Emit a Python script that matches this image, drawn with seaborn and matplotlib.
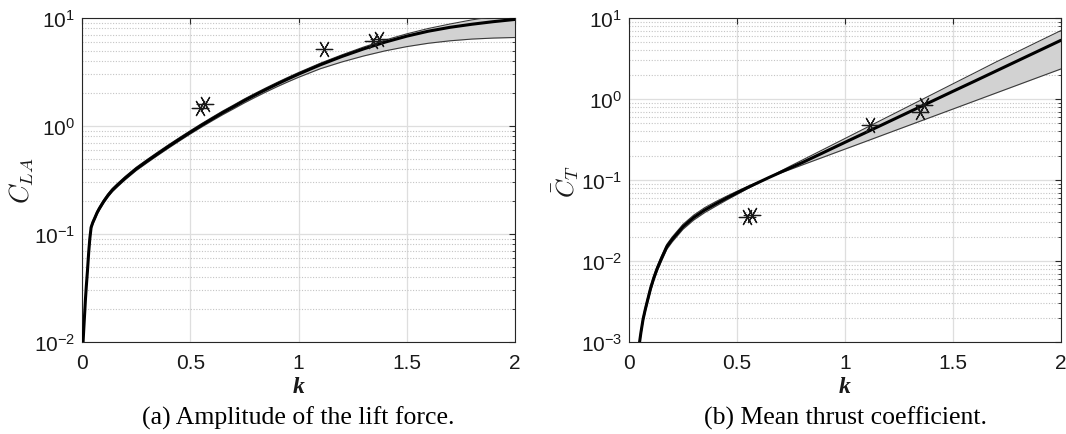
import numpy as np
import pandas as pd
import matplotlib
matplotlib.use("Agg")
import matplotlib.pyplot as plt
import seaborn as sns
from matplotlib.ticker import LogLocator, FixedLocator, FixedFormatter, NullFormatter

# ---------------- data ----------------
# (a) Amplitude of the lift force
k_lift = [0.005, 0.008, 0.012, 0.016, 0.02, 0.025, 0.031, 0.036, 0.042, 0.05,
          0.06, 0.07, 0.08, 0.1, 0.12, 0.14, 0.165, 0.2, 0.25, 0.3,
          0.35, 0.4, 0.45, 0.5, 0.55, 0.6, 0.65, 0.7, 0.75, 0.8,
          0.85, 0.9, 0.95, 1.0, 1.1, 1.2, 1.3, 1.4, 1.5, 1.6,
          1.7, 1.8, 1.9, 2.0]
cla_mean = [0.010, 0.013, 0.018, 0.025, 0.033, 0.045, 0.068, 0.09, 0.115, 0.128,
            0.142, 0.158, 0.172, 0.2, 0.228, 0.255, 0.285, 0.33, 0.40, 0.472,
            0.554, 0.648, 0.754, 0.874, 1.01, 1.16, 1.33, 1.51, 1.72, 1.94,
            2.18, 2.44, 2.72, 3.02, 3.68, 4.40, 5.17, 5.98, 6.79, 7.55,
            8.2, 8.75, 9.25, 9.7]
cla_lower = [0.00965, 0.01255, 0.01737, 0.02413, 0.03185, 0.04343, 0.06562, 0.08685, 0.111, 0.1235,
             0.137, 0.1525, 0.166, 0.193, 0.22, 0.246, 0.275, 0.3185, 0.386, 0.4555,
             0.5346, 0.6253, 0.7276, 0.8434, 0.9716, 1.114, 1.273, 1.442, 1.637, 1.843,
             2.067, 2.306, 2.557, 2.824, 3.386, 3.916, 4.446, 4.963, 5.432, 5.837,
             6.15, 6.38, 6.52, 6.6]
cla_upper = [0.01035, 0.01346, 0.01863, 0.02588, 0.03416, 0.04658, 0.07038, 0.09315, 0.119, 0.1325,
             0.147, 0.1635, 0.178, 0.207, 0.236, 0.264, 0.295, 0.3416, 0.414, 0.4885,
             0.5734, 0.6707, 0.7804, 0.9046, 1.045, 1.201, 1.377, 1.563, 1.78, 2.008,
             2.256, 2.525, 2.815, 3.126, 3.809, 4.554, 5.377, 6.249, 7.13, 8.0,
             8.8, 9.6, 10.3, 10.9]
k_lift_exp = [0.545, 0.57, 1.12, 1.345, 1.372]
cla_exp = [1.46, 1.6, 5.17, 6.17, 6.4]

# (b) Mean thrust coefficient
k_thrust = [0.049, 0.055, 0.065, 0.075, 0.085, 0.1, 0.115, 0.13, 0.15, 0.175,
            0.2, 0.25, 0.3, 0.35, 0.4, 0.45, 0.5, 0.55, 0.6, 0.65,
            0.7, 0.75, 0.8, 0.9, 1.0, 1.1, 1.2, 1.3, 1.4, 1.5,
            1.6, 1.7, 1.8, 1.9, 2.0]
ct_mean = [0.001, 0.0013, 0.0019, 0.0025, 0.0032, 0.0046, 0.0062, 0.0080, 0.0107, 0.0150,
           0.0185, 0.0265, 0.0345, 0.0425, 0.0505, 0.0595, 0.0695, 0.081, 0.0935, 0.108,
           0.124, 0.1425, 0.163, 0.218, 0.292, 0.39, 0.521, 0.697, 0.931, 1.245,
           1.66, 2.22, 2.97, 3.97, 5.31]
ct_upper = [0.00094, 0.00122, 0.00177, 0.00233, 0.00298, 0.00428, 0.00577, 0.00744, 0.00995, 0.01395,
            0.01721, 0.02465, 0.03209, 0.03953, 0.04722, 0.05623, 0.06637, 0.07857, 0.09210, 0.108,
            0.128, 0.150, 0.175, 0.2385, 0.3255, 0.444, 0.606, 0.827, 1.128, 1.54,
            2.10, 2.87, 3.85, 5.2, 7.0]
ct_lower = [0.00106, 0.00138, 0.00203, 0.00267, 0.00342, 0.00492, 0.00663, 0.00856, 0.01145, 0.01605,
            0.01980, 0.02836, 0.03692, 0.04548, 0.05378, 0.06277, 0.07263, 0.08343, 0.09490, 0.108,
            0.1215, 0.136, 0.1526, 0.1916, 0.2406, 0.302, 0.3797, 0.477, 0.599, 0.752,
            0.945, 1.187, 1.491, 1.873, 2.35]
k_thrust_exp = [0.545, 0.57, 1.117, 1.345, 1.368]
ct_exp = [0.0348, 0.0372, 0.479, 0.70, 0.845]

x_ticks = [0, 0.5, 1, 1.5, 2]
x_ticklabels = ["0", "0.5", "1", "1.5", "2"]
captions = ["(a) Amplitude of the lift force.", "(b) Mean thrust coefficient."]
ylabels = [r"$C_{LA}$", r"$\bar{C}_T$"]

# ---------------- style ----------------
sns.set_theme(style="white")
plt.rcParams["font.family"] = ["Liberation Sans", "DejaVu Sans"]
plt.rcParams["mathtext.fontset"] = "cm"

AX_COL = "#262626"

fig = plt.figure(figsize=(10.66, 4.35), dpi=100)
W, H = 1066, 435
ax1 = fig.add_axes([82 / W, 1 - 343 / H, 433 / W, 324 / H])
ax2 = fig.add_axes([629 / W, 1 - 343 / H, 432 / W, 324 / H])

panels = [
    (ax1, k_lift, cla_mean, cla_lower, cla_upper, k_lift_exp, cla_exp, (1e-2, 1e1)),
    (ax2, k_thrust, ct_mean, ct_lower, ct_upper, k_thrust_exp, ct_exp, (1e-3, 1e1)),
]

for i, (ax, k, m, lo, up, ke, ve, ylim) in enumerate(panels):
    ax.set_yscale("log")
    ax.set_xlim(0, 2)
    ax.set_ylim(*ylim)

    ax.fill_between(k, lo, up, color="#d2d2d2", linewidth=0, zorder=2)
    ax.plot(k, lo, color="#3a3a3a", lw=0.8, zorder=3)
    ax.plot(k, up, color="#3a3a3a", lw=0.8, zorder=3)

    df = pd.DataFrame({"k": k, "v": m})
    sns.lineplot(data=df, x="k", y="v", ax=ax, color="black", lw=2.2,
                 sort=False, estimator=None, zorder=4)

    dfe = pd.DataFrame({"k": ke, "v": ve})
    sns.scatterplot(data=dfe, x="k", y="v", ax=ax, marker=(6, 2, 90), s=140,
                    color="#1a1a1a", linewidth=0.9, zorder=5)

    # grid
    ax.set_axisbelow(True)
    ax.xaxis.set_major_locator(FixedLocator(x_ticks))
    ax.xaxis.set_major_formatter(FixedFormatter(x_ticklabels))
    ax.yaxis.set_major_locator(LogLocator(base=10, numticks=10))
    ax.yaxis.set_minor_locator(LogLocator(base=10, subs=np.arange(2, 10), numticks=50))
    ax.yaxis.set_minor_formatter(NullFormatter())
    ax.grid(which="major", color="#dedede", lw=0.9, ls="-", zorder=0)
    ax.grid(which="minor", axis="y", color="#c4c4c4", lw=0.8, ls=(0, (1, 1.5)), zorder=0)

    for s in ax.spines.values():
        s.set_color(AX_COL)
        s.set_linewidth(0.8)
        s.set_visible(True)
    ax.tick_params(which="both", direction="in", top=True, right=True,
                   colors=AX_COL, labelcolor="#1a1a1a")
    ax.tick_params(which="major", length=4, width=0.8, labelsize=15)
    ax.tick_params(which="minor", length=2.2, width=0.6)
    ax.tick_params(axis="x", pad=8)
    ax.tick_params(axis="y", pad=5)

    ax.set_xlabel("k", fontfamily="Liberation Serif", fontstyle="italic",
                  fontweight="bold", fontsize=17, color="#1a1a1a")
    ax.xaxis.set_label_coords(0.5, -0.137)
    ax.xaxis.label.set_va("center")
    ax.set_ylabel(ylabels[i], fontsize=19 if i == 0 else 18, color="#1a1a1a")
    ax.yaxis.label.set_va("center")
    ax.yaxis.set_label_coords(-0.139 if i == 0 else -0.146, 0.5)

fig.text((82 + 515) / 2 / W, 1 - 418 / H, captions[0], ha="center", va="center",
         fontfamily="Liberation Serif", fontsize=18.5, color="black")
fig.text((629 + 1061) / 2 / W, 1 - 418 / H, captions[1], ha="center", va="center",
         fontfamily="Liberation Serif", fontsize=18.5, color="black")

fig.savefig("out.png", dpi=100)
